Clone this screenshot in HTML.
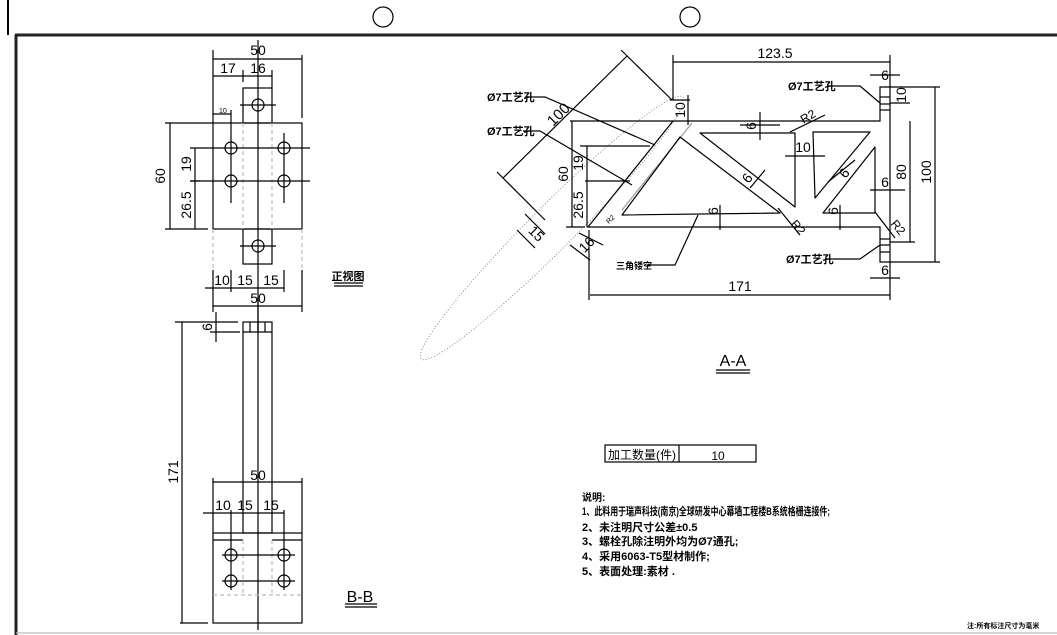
<!DOCTYPE html>
<html><head><meta charset="utf-8"><style>
html,body{margin:0;padding:0;background:#fff;}
svg{display:block;}
text{font-family:"Liberation Sans","Noto Sans CJK SC",sans-serif;fill:#000;}
</style></head><body>
<svg width="1057" height="635" viewBox="0 0 1057 635" xmlns="http://www.w3.org/2000/svg">
<g stroke="#000" fill="none" stroke-width="1.2">
<line x1="8" y1="0" x2="8" y2="35" stroke-width="2"/>
<line x1="15" y1="35" x2="1057" y2="35" stroke-width="3" stroke="#222"/>
<line x1="16" y1="35" x2="16" y2="635" stroke-width="3" stroke="#222"/>
<line x1="16" y1="633" x2="1057" y2="633" stroke="#bbb"/>
<circle cx="383" cy="17" r="10"/>
<circle cx="690" cy="17" r="10"/>

<rect x="213" y="123" width="89" height="106"/>
<rect x="243" y="88" width="29" height="35"/>
<rect x="243" y="229" width="29" height="35"/>
<line x1="258" y1="40" x2="258" y2="330"/>
<g stroke="#bbb" stroke-dasharray="4,3"><line x1="243" y1="123" x2="243" y2="229"/><line x1="272" y1="123" x2="272" y2="229"/><line x1="213" y1="229" x2="213" y2="280"/><line x1="302" y1="229" x2="302" y2="280"/></g>
<circle cx="258" cy="105" r="6"/><line x1="240" y1="105" x2="276" y2="105"/>
<circle cx="258" cy="246" r="6"/><line x1="240" y1="246" x2="276" y2="246"/>
<circle cx="231" cy="148" r="6"/><circle cx="284" cy="148" r="6"/>
<circle cx="231" cy="181" r="6"/><circle cx="284" cy="181" r="6"/>
<line x1="190" y1="148" x2="310" y2="148"/><line x1="190" y1="181" x2="310" y2="181"/>
<line x1="231" y1="110" x2="231" y2="203"/><line x1="284" y1="133" x2="284" y2="203"/>
<line x1="213" y1="50" x2="213" y2="123"/><line x1="302" y1="55" x2="302" y2="118"/>
<line x1="213" y1="59" x2="302" y2="59"/>
<line x1="213" y1="76" x2="272" y2="76"/><line x1="243" y1="70" x2="243" y2="82"/><line x1="272" y1="70" x2="272" y2="88"/>
<line x1="213" y1="114" x2="231" y2="114"/>
<line x1="165" y1="123" x2="213" y2="123"/><line x1="165" y1="229" x2="208" y2="229"/>
<line x1="170" y1="123" x2="170" y2="229"/>
<line x1="195" y1="148" x2="195" y2="229"/><line x1="190" y1="181" x2="200" y2="181"/>
<line x1="213" y1="270" x2="213" y2="312"/><line x1="302" y1="270" x2="302" y2="312"/>
<line x1="231" y1="270" x2="231" y2="292"/><line x1="284" y1="270" x2="284" y2="292"/>
<line x1="205" y1="288" x2="284" y2="288"/>
<line x1="213" y1="306" x2="302" y2="306"/>
<line x1="334" y1="283" x2="363" y2="283"/><line x1="334" y1="286" x2="363" y2="286"/>

<rect x="243" y="322" width="29" height="211"/>
<line x1="243" y1="332" x2="272" y2="332"/>
<line x1="250" y1="322" x2="250" y2="332"/><line x1="258" y1="322" x2="258" y2="332"/><line x1="265" y1="322" x2="265" y2="332"/>
<rect x="213" y="533" width="89" height="90"/>
<line x1="213" y1="540" x2="243" y2="540"/><line x1="272" y1="540" x2="302" y2="540"/>
<line x1="258" y1="300" x2="258" y2="630"/>
<g stroke="#bbb" stroke-dasharray="4,3"><line x1="243" y1="540" x2="243" y2="595"/><line x1="272" y1="540" x2="272" y2="595"/><line x1="213" y1="595" x2="302" y2="595"/></g>
<circle cx="231" cy="555" r="6"/><circle cx="284" cy="555" r="6"/>
<circle cx="231" cy="581" r="6"/><circle cx="284" cy="581" r="6"/>
<line x1="222" y1="555" x2="295" y2="555"/><line x1="222" y1="581" x2="295" y2="581"/>
<line x1="231" y1="510" x2="231" y2="590"/><line x1="284" y1="510" x2="284" y2="590"/>
<line x1="175" y1="322" x2="238" y2="322"/><line x1="180" y1="623" x2="208" y2="623"/>
<line x1="182" y1="322" x2="182" y2="623"/>
<line x1="216" y1="312" x2="216" y2="342"/><line x1="210" y1="332" x2="240" y2="332"/>
<line x1="213" y1="478" x2="213" y2="533"/><line x1="302" y1="478" x2="302" y2="533"/>
<line x1="213" y1="482" x2="302" y2="482"/>
<line x1="203" y1="513" x2="284" y2="513"/>
<line x1="345" y1="604" x2="377" y2="604"/><line x1="345" y1="607" x2="377" y2="607"/>

<ellipse cx="552" cy="228" rx="185" ry="22" transform="rotate(-45 552 228)" stroke="#888" stroke-width="1" stroke-dasharray="1,2"/>

<path d="M673,121 L880,121 L880,87 L890,87 L890,262 L880,262 L880,227 L588,227 Z"/>
<line x1="692" y1="123" x2="622" y2="210" stroke="#999"/>
<path d="M680,137 L780,213 L622,215 Z" stroke-linejoin="round"/>
<path d="M700,133 L795,133 L795,207 Z" stroke-linejoin="round"/>
<path d="M813,132 L870,132 L815,198 Z" stroke-linejoin="round"/>
<path d="M875,147 L875,213 L823,213 Z" stroke-linejoin="round"/>
<line x1="880" y1="97" x2="890" y2="97"/><line x1="880" y1="104" x2="890" y2="104"/><line x1="880" y1="110" x2="890" y2="110"/>
<line x1="880" y1="239" x2="890" y2="239"/><line x1="880" y1="245" x2="890" y2="245"/><line x1="880" y1="252" x2="890" y2="252"/>
<line x1="673" y1="55" x2="673" y2="100"/><line x1="890" y1="55" x2="890" y2="87"/>
<line x1="673" y1="62" x2="890" y2="62"/>
<line x1="589" y1="230" x2="589" y2="300"/><line x1="890" y1="262" x2="890" y2="300"/>
<line x1="590" y1="295" x2="890" y2="295"/>
<line x1="890" y1="87" x2="940" y2="87"/><line x1="890" y1="262" x2="940" y2="262"/>
<line x1="935" y1="87" x2="935" y2="262"/>
<line x1="890" y1="242" x2="915" y2="242"/><line x1="910" y1="121" x2="910" y2="242"/>
<line x1="870" y1="75" x2="900" y2="75"/><line x1="870" y1="278" x2="900" y2="278"/>
<line x1="890" y1="103" x2="910" y2="103"/>
<line x1="670" y1="100" x2="690" y2="100"/><line x1="688" y1="95" x2="688" y2="125"/>
<line x1="570" y1="121" x2="673" y2="121"/><line x1="566" y1="227" x2="585" y2="227"/>
<line x1="572" y1="121" x2="572" y2="227"/>
<line x1="580" y1="146" x2="650" y2="146"/><line x1="585" y1="181" x2="630" y2="181"/>
<line x1="587" y1="146" x2="587" y2="227"/>
<line x1="503" y1="178" x2="627" y2="56"/><line x1="497" y1="172" x2="545" y2="220"/><line x1="621" y1="50" x2="672" y2="100"/>
<line x1="525" y1="214" x2="545" y2="234"/><line x1="517" y1="230" x2="535" y2="248"/>
<line x1="579" y1="233" x2="603" y2="245"/><line x1="570" y1="245" x2="590" y2="260"/>
<line x1="760" y1="112" x2="760" y2="140"/><line x1="740" y1="125" x2="780" y2="125"/>
<line x1="785" y1="156" x2="825" y2="156"/>
<line x1="720" y1="205" x2="720" y2="230"/><line x1="840" y1="205" x2="840" y2="230"/>
<line x1="750" y1="188" x2="765" y2="170"/><line x1="828" y1="182" x2="855" y2="160"/>
<line x1="870" y1="190" x2="905" y2="190"/>
<line x1="790" y1="132" x2="825" y2="115"/>
<line x1="778" y1="208" x2="800" y2="235"/><line x1="875" y1="212" x2="895" y2="238"/>
<polyline points="525,97 545,97 655,145"/>
<polyline points="523,131 540,131 632,185"/>
<polyline points="827,86 860,86 880,103"/>
<polyline points="825,259 860,259 880,245"/>
<polyline points="647,265 675,265 698,215"/>
<line x1="716" y1="370" x2="750" y2="370"/><line x1="716" y1="373" x2="750" y2="373"/>

<rect x="605" y="445" width="151" height="17"/>
<line x1="679" y1="445" x2="679" y2="462"/>
</g>

<g font-size="14">
<text x="258" y="55" text-anchor="middle">50</text>
<text x="228" y="73" text-anchor="middle">17</text>
<text x="258" y="73" text-anchor="middle">16</text>
<text x="219" y="113" font-size="7">10</text>
<text transform="translate(165,176) rotate(-90)" text-anchor="middle">60</text>
<text transform="translate(191,164) rotate(-90)" text-anchor="middle">19</text>
<text transform="translate(191,205) rotate(-90)" text-anchor="middle">26.5</text>
<text x="222" y="285" text-anchor="middle">10</text>
<text x="245" y="285" text-anchor="middle">15</text>
<text x="271" y="285" text-anchor="middle">15</text>
<text x="258" y="303" text-anchor="middle">50</text>
<text x="348" y="280" text-anchor="middle" font-size="11" font-weight="bold">正视图</text>
<text transform="translate(212,327) rotate(-90)" text-anchor="middle">6</text>
<text transform="translate(178,472) rotate(-90)" text-anchor="middle">171</text>
<text x="258" y="480" text-anchor="middle">50</text>
<text x="223" y="510" text-anchor="middle">10</text>
<text x="245" y="510" text-anchor="middle">15</text>
<text x="271" y="510" text-anchor="middle">15</text>
<text x="360" y="602" text-anchor="middle" font-size="16">B-B</text>
<text x="775" y="58" text-anchor="middle">123.5</text>
<text x="740" y="291" text-anchor="middle">171</text>
<text transform="translate(931,172) rotate(-90)" text-anchor="middle">100</text>
<text transform="translate(906,172) rotate(-90)" text-anchor="middle">80</text>
<text x="885" y="80" text-anchor="middle">6</text>
<text x="885" y="275" text-anchor="middle">6</text>
<text transform="translate(906,95) rotate(-90)" text-anchor="middle">10</text>
<text transform="translate(685,110) rotate(-90)" text-anchor="middle">10</text>
<text transform="translate(568,174) rotate(-90)" text-anchor="middle">60</text>
<text transform="translate(583,163) rotate(-90)" text-anchor="middle">19</text>
<text transform="translate(583,205) rotate(-90)" text-anchor="middle">26.5</text>
<text transform="translate(562,118) rotate(-45)" text-anchor="middle" font-size="15">100</text>
<text transform="translate(533,237) rotate(45)" text-anchor="middle">15</text>
<text transform="translate(590,248) rotate(-45)" text-anchor="middle">16</text>
<text transform="translate(756,126) rotate(-90)" text-anchor="middle">6</text>
<text x="803" y="152" text-anchor="middle">10</text>
<text transform="translate(718,211) rotate(-90)" text-anchor="middle">6</text>
<text transform="translate(838,211) rotate(-90)" text-anchor="middle">6</text>
<text x="885" y="187" text-anchor="middle">6</text>
<text transform="translate(751,181) rotate(-52)" text-anchor="middle">6</text>
<text transform="translate(848,176) rotate(-52)" text-anchor="middle">6</text>
<text transform="translate(810,120) rotate(-30)" text-anchor="middle" font-size="12">R2</text>
<text transform="translate(795,230) rotate(50)" text-anchor="middle" font-size="12">R2</text>
<text transform="translate(895,230) rotate(50)" text-anchor="middle" font-size="12">R2</text>
<text transform="translate(612,221) rotate(-45)" text-anchor="middle" font-size="7">R2</text>
<text x="487" y="101" font-size="11" font-weight="bold">Ø7工艺孔</text>
<text x="487" y="135" font-size="11" font-weight="bold">Ø7工艺孔</text>
<text x="788" y="90" font-size="11" font-weight="bold">Ø7工艺孔</text>
<text x="786" y="263" font-size="11" font-weight="bold">Ø7工艺孔</text>
<text x="616" y="269" font-size="9" font-weight="bold">三角镂空</text>
<text x="733" y="366" text-anchor="middle" font-size="16">A-A</text>
<text x="608" y="459" font-size="12">加工数量(件)</text>
<text x="718" y="460" text-anchor="middle" font-size="12">10</text>
<g font-size="11" font-weight="bold">
<text x="582" y="501" font-size="10">说明:</text>
<text x="582" y="515" textLength="248" lengthAdjust="spacingAndGlyphs">1、此料用于瑞声科技(南京)全球研发中心幕墙工程楼B系统格栅连接件;</text>
<text x="582" y="531">2、未注明尺寸公差±0.5</text>
<text x="582" y="545">3、螺栓孔除注明外均为Ø7通孔;</text>
<text x="582" y="560">4、采用6063-T5型材制作;</text>
<text x="582" y="575">5、表面处理:素材 .</text>
<text x="967" y="628" font-size="7">注:所有标注尺寸为毫米</text>
</g>
</g>
</svg>
</body></html>
